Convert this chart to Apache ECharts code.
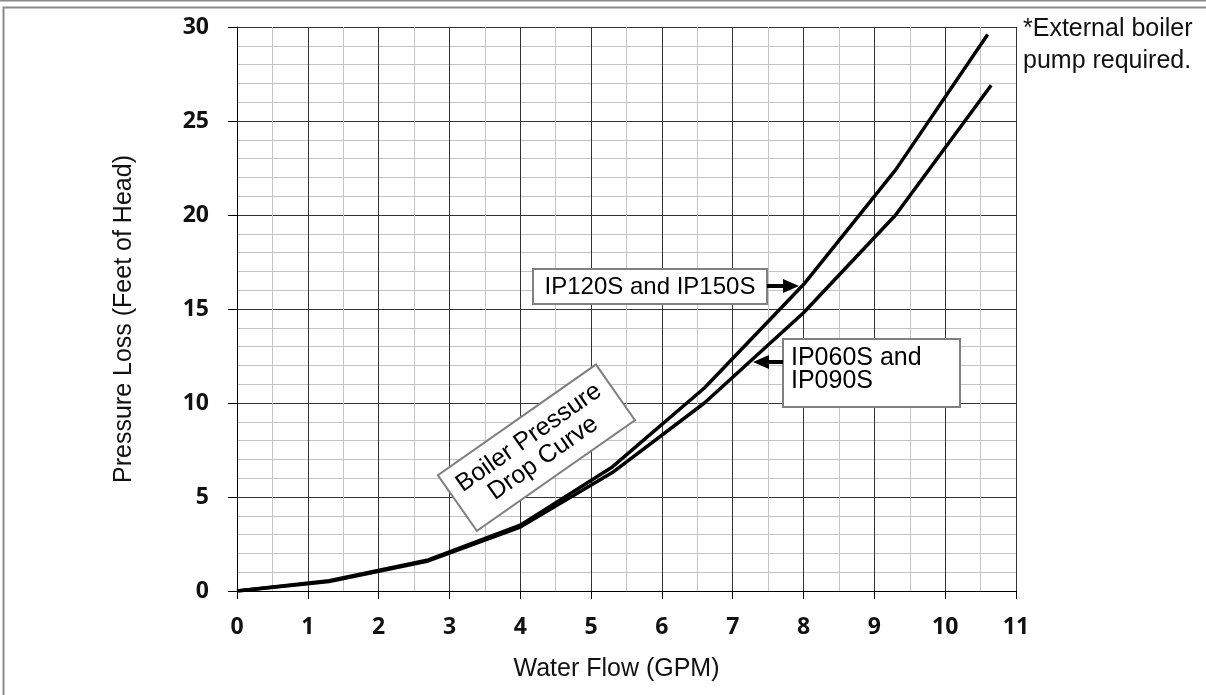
<!DOCTYPE html>
<html>
<head>
<meta charset="utf-8">
<title>Boiler Pressure Drop Curve</title>
<script src="https://cdn.jsdelivr.net/npm/echarts@6/dist/echarts.min.js"></script>
<style>
	html, body { margin: 0; padding: 0; background: #fff; }
	#chart { width: 1206px; height: 695px; }
</style>
</head>
<body>
<div id="chart"></div>
<script>
// water flow (GPM) / pressure loss (feet of head)
var flowBig = [0, 1.3, 2.7, 4.0, 5.3, 6.6, 8.0, 9.3, 10.6];
var headBig = [0, 0.55, 1.65, 3.5, 6.6, 10.8, 16.3, 22.4, 29.6];
var flowSmall = [0, 1.3, 2.7, 4.0, 5.3, 6.6, 8.0, 9.3, 10.65];
var headSmall = [0, 0.5, 1.6, 3.4, 6.3, 10.0, 14.8, 20.0, 26.9];
var seriesNames = ['IP120S and IP150S', 'IP060S and IP090S'];

function pairs(xs, ys) {
	var out = [];
	for (var i = 0; i < xs.length; i++) {
		out.push([xs[i], ys[i]]);
	}
	return out;
}

var textFont = "'Liberation Sans', Arial, sans-serif";
var tickFont = "'Open Sans', sans-serif";
var Z = 100;

function box(x, y, w, h) {
	return {
		type : 'rect',
		z : Z,
		shape : { x : x, y : y, width : w, height : h },
		style : { fill : '#fff', stroke : '#808080', lineWidth : 2 }
	};
}

function arrow(x1, y, x2, tipX) {
	// shaft from x1 to x2, head pointing at tipX
	var dir = tipX > x2 ? 1 : -1;
	return [{
		type : 'line',
		z : Z,
		shape : { x1 : x1, y1 : y, x2 : x2, y2 : y },
		style : { stroke : '#000', lineWidth : 4 }
	}, {
		type : 'polygon',
		z : Z,
		shape : { points : [ [tipX, y], [tipX - dir * 16, y - 7], [tipX - dir * 16, y + 7] ] },
		style : { fill : '#000' }
	}];
}

var myChart = echarts.init(document.getElementById('chart'));
var option = {
	animation : false,
	grid : {
		left : 237,
		right : 190,
		top : 27,
		bottom : 104
	},
	xAxis : {
		type : 'value',
		min : 0,
		max : 11,
		interval : 1,
		name : 'Water Flow (GPM)',
		nameLocation : 'middle',
		nameGap : 66,
		nameTextStyle : { fontFamily : textFont, fontSize : 25, color : '#111', padding : [0, 20, 0, 0] },
		axisLine : { onZero : false, lineStyle : { color : '#000', width : 1 } },
		axisTick : { show : true, length : 8, lineStyle : { color : '#000' } },
		axisLabel : { margin : 25, fontFamily : tickFont, fontWeight : 'bold', fontSize : 23, color : '#111' },
		splitLine : { show : true, lineStyle : { color : '#333', width : 1 } },
		minorTick : { show : false, splitNumber : 2 },
		minorSplitLine : { show : true, lineStyle : { color : '#c4c4c4', width : 1 } }
	},
	yAxis : {
		type : 'value',
		min : 0,
		max : 30,
		interval : 5,
		name : 'Pressure Loss (Feet of Head)',
		nameLocation : 'middle',
		nameGap : 100,
		nameTextStyle : { fontFamily : textFont, fontSize : 25, color : '#111', padding : [0, 20, 0, 0] },
		axisLine : { show : true, lineStyle : { color : '#000', width : 1 } },
		axisTick : { show : true, length : 9, lineStyle : { color : '#000' } },
		axisLabel : { margin : 28, fontFamily : tickFont, fontWeight : 'bold', fontSize : 23, color : '#111' },
		splitLine : { show : true, lineStyle : { color : '#333', width : 1 } },
		minorTick : { show : false, splitNumber : 5 },
		minorSplitLine : { show : true, lineStyle : { color : '#c4c4c4', width : 1 } }
	},
	series : [ {
		name : seriesNames[0],
		type : 'line',
		showSymbol : false,
		silent : true,
		z : 5,
		lineStyle : { color : '#000', width : 3.5 },
		data : pairs(flowBig, headBig)
	}, {
		name : seriesNames[1],
		type : 'line',
		showSymbol : false,
		silent : true,
		z : 5,
		lineStyle : { color : '#000', width : 3.5 },
		data : pairs(flowSmall, headSmall)
	} ],
	graphic : [
		// page frame
		{
			type : 'line',
			shape : { x1 : 0, y1 : 0.5, x2 : 1206, y2 : 0.5 },
			style : { stroke : '#8a8a8a', lineWidth : 2 }
		},
		{
			type : 'rect',
			shape : { x : 3.5, y : 7.5, width : 1210, height : 700 },
			style : { fill : null, stroke : '#8a8a8a', lineWidth : 2 }
		},
		{
			type : 'text',
			left : 1023,
			top : 13,
			style : {
				text : '*External boiler\npump required.',
				font : '25px ' + textFont,
				lineHeight : 32,
				fill : '#111'
			}
		},
		// label for the upper curve
		{
			type : 'group',
			children : [ box(533, 269, 234, 35), {
				type : 'text',
				z : Z + 1,
				x : 650,
				y : 287,
				style : {
					text : seriesNames[0],
					font : '24px ' + textFont,
					fill : '#000',
					align : 'center',
					verticalAlign : 'middle'
				}
			} ].concat(arrow(767, 286, 785, 799))
		},
		// label for the lower curve
		{
			type : 'group',
			children : [ box(783, 339, 177, 68), {
				type : 'text',
				z : Z + 1,
				x : 791,
				y : 370,
				style : {
					text : 'IP060S and\nIP090S',
					font : '25px ' + textFont,
					lineHeight : 23,
					fill : '#000',
					align : 'left',
					verticalAlign : 'middle'
				}
			} ].concat(arrow(783, 362, 766, 753))
		},
		// rotated title box
		{
			type : 'group',
			x : 536,
			y : 448,
			rotation : 35 * Math.PI / 180,
			children : [ box(-96, -34, 193, 68), {
				type : 'text',
				z : Z + 1,
				x : 0,
				y : 0,
				style : {
					text : 'Boiler Pressure\nDrop Curve',
					font : '25px ' + textFont,
					lineHeight : 25,
					fill : '#000',
					align : 'center',
					verticalAlign : 'middle'
				}
			} ]
		}
	]
};
myChart.setOption(option);
</script>
</body>
</html>
